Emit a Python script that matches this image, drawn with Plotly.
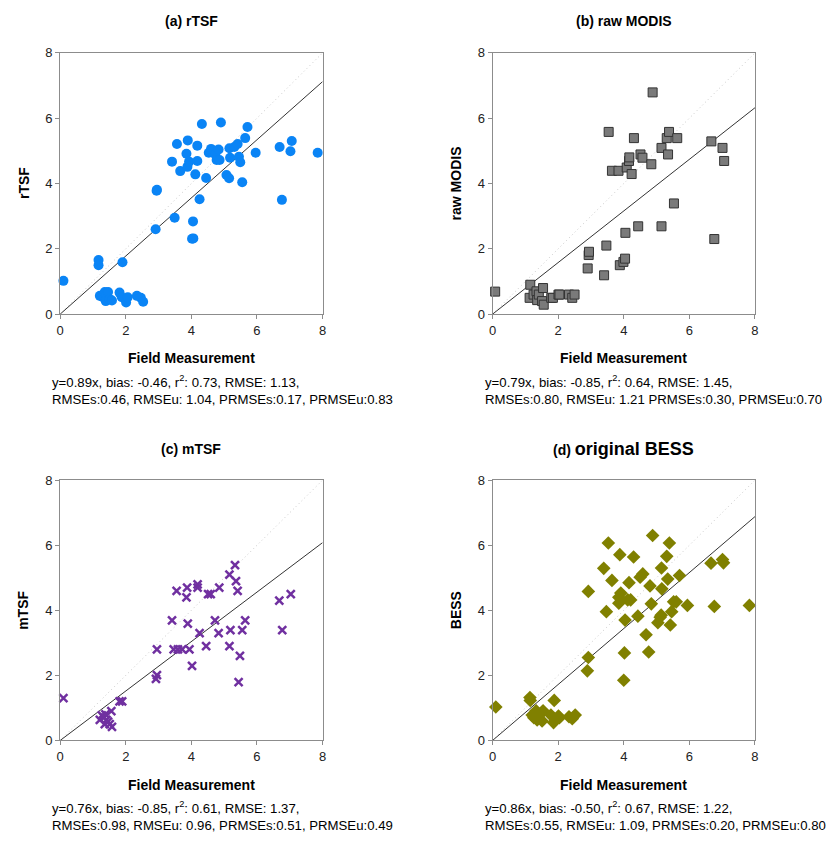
import plotly.graph_objects as go

# ---------------- data ----------------
field_a = [0.10, 1.17, 1.17, 1.90, 1.21, 1.29, 1.36, 1.41, 1.46, 1.39, 1.51, 1.58, 1.81, 1.88, 2.01, 2.06, 2.34, 2.46, 2.53,
           2.91, 2.94, 2.95, 3.49, 3.41, 3.56, 3.66, 3.89, 3.85, 3.88, 3.93, 4.02, 4.06, 4.05, 4.18, 4.18, 4.12, 4.25,
           4.32, 4.45, 4.53, 4.60, 4.73, 4.77, 4.83, 4.86, 4.90, 5.07, 5.15, 5.16, 5.18, 5.31, 5.41, 5.45, 5.49, 5.55,
           5.64, 5.71, 5.96, 6.69, 6.76, 7.02, 7.06, 7.85]
rtsf = [1.02, 1.66, 1.50, 1.59, 0.56, 0.53, 0.68, 0.58, 0.68, 0.40, 0.46, 0.42, 0.66, 0.52, 0.36, 0.52, 0.56, 0.50, 0.38,
        2.60, 3.78, 3.81, 2.95, 4.67, 5.21, 4.38, 5.32, 4.91, 4.51, 4.67, 2.31, 2.32, 2.84, 5.16, 4.69, 4.28, 3.52,
        5.82, 4.17, 4.94, 5.06, 4.89, 4.72, 5.04, 4.72, 5.87, 4.26, 4.16, 5.08, 4.79, 5.12, 5.21, 4.82, 4.65, 4.04,
        5.39, 5.73, 4.94, 5.12, 3.50, 4.99, 5.30, 4.94]

field_b = [0.08, 1.15, 1.13, 1.25, 1.34, 1.36, 1.41, 1.54, 1.51, 1.56, 1.79, 1.84, 2.01, 2.04, 2.33, 2.43, 2.50,
           2.90, 2.93, 2.94, 3.40, 3.47, 3.54, 3.64, 3.84, 3.88, 3.99, 4.04, 4.05, 4.09, 4.16, 4.17, 4.24, 4.31,
           4.44, 4.51, 4.57, 4.84, 4.88, 5.15, 5.15, 5.31, 5.35, 5.38, 5.53, 5.63, 6.67, 6.76, 7.01, 7.06]
raw_modis = [0.69, 0.90, 0.50, 0.60, 0.70, 0.43, 0.60, 0.80, 0.40, 0.29, 0.50, 0.50, 0.60, 0.60, 0.60, 0.50, 0.60,
             1.40, 1.81, 1.91, 1.19, 2.10, 5.58, 4.39, 4.39, 1.50, 1.60, 1.70, 2.49, 4.49, 4.69, 4.80, 4.29, 5.39,
             2.69, 4.89, 4.79, 4.59, 6.79, 5.09, 2.69, 5.39, 4.89, 5.58, 3.39, 5.39, 5.29, 2.30, 5.09, 4.69]

field_c = [0.10, 1.21, 1.27, 1.34, 1.38, 1.41, 1.36, 1.46, 1.51, 1.56, 1.58, 1.81, 1.89, 2.92, 2.95, 2.95, 3.41,
           3.46, 3.55, 3.59, 3.72, 3.85, 3.87, 3.89, 3.94, 4.02, 4.19, 4.19, 4.25, 4.45, 4.51, 4.59, 4.72, 4.83,
           4.85, 5.16, 5.16, 5.19, 5.33, 5.36, 5.41, 5.44, 5.48, 5.55, 5.64, 6.68, 6.77, 7.03]
mtsf = [1.30, 0.63, 0.77, 0.70, 0.80, 0.63, 0.50, 0.58, 0.50, 0.90, 0.42, 1.20, 1.20, 1.89, 2.01, 2.80, 3.69,
        2.80, 4.60, 2.80, 2.80, 4.40, 4.70, 3.59, 2.80, 2.29, 4.80, 4.70, 3.30, 2.90, 4.50, 4.50, 3.69, 3.30,
        4.70, 2.90, 5.10, 3.39, 5.39, 4.90, 4.60, 1.79, 2.60, 3.39, 3.69, 4.30, 3.39, 4.50]

field_d = [0.10, 1.14, 1.15, 1.21, 1.26, 1.33, 1.36, 1.39, 1.44, 1.51, 1.54, 1.78, 1.86, 1.88, 2.01, 2.04, 2.33,
           2.43, 2.52, 2.89, 2.92, 2.92, 3.39, 3.47, 3.53, 3.64, 3.85, 3.85, 3.88, 3.91, 4.00, 4.02, 4.04, 4.12,
           4.16, 4.21, 4.30, 4.43, 4.50, 4.58, 4.68, 4.76, 4.80, 4.84, 4.88, 5.04, 5.11, 5.14, 5.15, 5.16, 5.31,
           5.34, 5.39, 5.42, 5.46, 5.52, 5.60, 5.70, 5.94, 6.66, 6.76, 7.01, 7.04, 7.83]
bess = [1.03, 1.32, 1.23, 0.78, 0.70, 0.91, 0.63, 0.75, 0.80, 0.60, 0.91, 0.78, 0.55, 1.23, 0.75, 0.70, 0.73,
        0.67, 0.78, 2.14, 2.55, 4.58, 5.29, 3.96, 6.07, 4.92, 4.22, 4.40, 5.71, 4.53, 1.85, 2.69, 3.70, 4.32,
        4.85, 4.32, 5.64, 3.82, 5.02, 5.12, 3.25, 2.72, 4.75, 4.20, 6.30, 3.62, 3.79, 3.85, 5.30, 4.66, 5.66,
        4.96, 6.07, 3.55, 3.96, 4.26, 4.26, 5.07, 4.15, 5.45, 4.12, 5.56, 5.46, 4.15]

slopes = [0.89, 0.79, 0.76, 0.86]
y_titles = ["rTSF", "raw MODIS", "mTSF", "BESS"]
panel_titles = ["<b>(a) rTSF</b>", "<b>(b) raw MODIS</b>", "<b>(c) mTSF</b>",
                "<b>(d) <span style='font-size:18px'>original BESS</span></b>"]
stats = [
    "y=0.89x, bias: -0.46, r<sup>2</sup>: 0.73, RMSE: 1.13,<br>RMSEs:0.46, RMSEu: 1.04, PRMSEs:0.17, PRMSEu:0.83",
    "y=0.79x, bias: -0.85, r<sup>2</sup>: 0.64, RMSE: 1.45,<br>RMSEs:0.80, RMSEu: 1.21 PRMSEs:0.30, PRMSEu:0.70",
    "y=0.76x, bias: -0.85, r<sup>2</sup>: 0.61, RMSE: 1.37,<br>RMSEs:0.98, RMSEu: 0.96, PRMSEs:0.51, PRMSEu:0.49",
    "y=0.86x, bias: -0.50, r<sup>2</sup>: 0.67, RMSE: 1.22,<br>RMSEs:0.55, RMSEu: 1.09, PRMSEs:0.20, PRMSEu:0.80",
]
x_title = "Field Measurement"
axis_range = [0, 8]
tick_vals = [0, 2, 4, 6, 8]

# ---------------- layout ----------------
W, H = 829, 847
FONT = "Liberation Sans, Arial, sans-serif"
# pixel boxes (left, right, top, bottom)
boxes = [(56.7, 321.7, 46.7, 312.7), (493.3, 758.3, 46.7, 312.7),
         (56.7, 321.7, 481.7, 746.7), (493.3, 758.3, 481.7, 746.7)]

series = [
    (field_a, rtsf, dict(symbol="circle", size=10, color="#0a84f5", line=dict(width=0))),
    (field_b, raw_modis, dict(symbol="square", size=9, color="#7a7a7a", line=dict(width=1, color="#333333"))),
    (field_c, mtsf, dict(symbol="x-thin", size=8, color="#7030a0", line=dict(width=2.5, color="#7030a0"))),
    (field_d, bess, dict(symbol="diamond", size=10.5, color="#808000", line=dict(width=0))),
]

fig = go.Figure()
annotations = []
for i, ((xs, ys, mk), (l, r, t, b)) in enumerate(zip(series, boxes)):
    ax = "" if i == 0 else str(i + 1)
    xa, ya = "x" + ax, "y" + ax
    # 1:1 line
    fig.add_trace(go.Scatter(x=axis_range, y=axis_range, mode="lines", xaxis=xa, yaxis=ya,
                             line=dict(color="#c8c8c8", width=1, dash="1px,3px"), hoverinfo="skip", showlegend=False))
    # regression line
    fig.add_trace(go.Scatter(x=axis_range, y=[slopes[i] * v for v in axis_range], mode="lines", xaxis=xa, yaxis=ya,
                             line=dict(color="#333333", width=1), hoverinfo="skip", showlegend=False))
    fig.add_trace(go.Scatter(x=xs, y=ys, mode="markers", xaxis=xa, yaxis=ya, marker=mk,
                             showlegend=False, cliponaxis=False))
    common = dict(range=axis_range, tickvals=tick_vals, showgrid=False, zeroline=False,
                  showline=True, linecolor="#8c8c8c", linewidth=1, mirror=True,
                  ticks="outside", ticklen=4, tickcolor="#8c8c8c",
                  tickfont=dict(family=FONT, size=13, color="#222222"), fixedrange=True)
    fig.layout["xaxis" + ax] = dict(common, domain=[l / W, r / W], anchor=ya)
    fig.layout["yaxis" + ax] = dict(common, domain=[1 - b / H, 1 - t / H], anchor=xa)
    cx = (l + r) / 2
    # panel title
    annotations.append(dict(text=panel_titles[i], x=cx / W, y=1 - (t - 32) / H, xref="paper", yref="paper",
                            showarrow=False, xanchor="center", yanchor="middle",
                            font=dict(family=FONT, size=14, color="#000000")))
    # x title
    annotations.append(dict(text="<b>" + x_title + "</b>", x=cx / W, y=1 - (b + 45) / H, xref="paper", yref="paper",
                            showarrow=False, xanchor="center", yanchor="middle",
                            font=dict(family=FONT, size=14, color="#000000")))
    # y title
    annotations.append(dict(text="<b>" + y_titles[i] + "</b>", x=(l - 37) / W, y=1 - ((t + b) / 2) / H,
                            xref="paper", yref="paper", showarrow=False, textangle=-90,
                            xanchor="center", yanchor="middle",
                            font=dict(family=FONT, size=14, color="#000000")))
    # stats
    annotations.append(dict(text=stats[i], x=(l - 10) / W, y=1 - (b + 58) / H, xref="paper", yref="paper",
                            showarrow=False, xanchor="left", yanchor="top", align="left",
                            font=dict(family=FONT, size=13.2, color="#000000")))

fig.update_layout(width=W, height=H, margin=dict(l=0, r=0, t=0, b=0),
                  plot_bgcolor="white", paper_bgcolor="white", annotations=annotations,
                  font=dict(family=FONT))
fig.write_html("out.html", config={"displayModeBar": False},
               post_script="document.body.style.margin='0';document.body.style.overflow='hidden';")
